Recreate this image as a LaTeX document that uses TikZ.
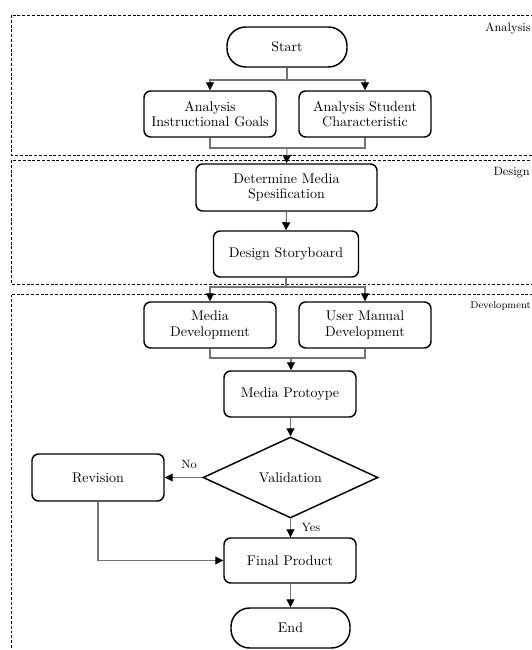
\documentclass[tikz,border=0pt]{standalone}
\usetikzlibrary{shapes.geometric,arrows.meta}
\begin{document}
\begin{tikzpicture}[x=0.75pt,y=-0.75pt,
  box/.style={draw=black,line width=1.1pt,rounded corners=5pt,align=center,inner sep=0pt,font=\fontsize{10.5}{11.5}\selectfont},
  term/.style={draw=black,line width=1.1pt,rounded corners=14pt,align=center,inner sep=0pt,font=\fontsize{10.5}{11.5}\selectfont},
  decision/.style={draw=black,line width=1.1pt,diamond,aspect=2.16,inner sep=0pt,font=\fontsize{10.5}{11.5}\selectfont},
  frame/.style={draw=black,dashed,line width=0.4pt,dash pattern=on 2.2pt off 1.4pt},
  conn/.style={draw=black!55,line width=0.8pt},
  arr/.style={conn,-{Triangle[length=6pt,width=6pt,color=black]}},
  phase/.style={anchor=north east,inner sep=0pt,font=\fontsize{9}{10}\selectfont},
  lbl/.style={inner sep=0pt,font=\fontsize{9}{10}\selectfont}]
\useasboundingbox (0,0) rectangle (532,650);
% phase frames
\draw[frame] (11.5,15) rectangle (545,155.5);
\draw[frame] (11.5,160) rectangle (545,284);
\draw[frame] (11.5,294.5) rectangle (545,665);
\node[phase] (pa) at (531,23) {Analysis};
\node[phase] (pd) at (530,167) {Design};
\node[phase, font=\fontsize{7.5}{9}\selectfont] (pdev) at (531,301) {Development};
% nodes
\node[term, minimum width=120*0.75pt, minimum height=40*0.75pt] (start) at (287,47) {Start};
\node[box, minimum width=132*0.75pt, minimum height=46*0.75pt] (aig) at (210,114) {Analysis\\Instructional Goals};
\node[box, minimum width=132*0.75pt, minimum height=46*0.75pt] (asc) at (365,114) {Analysis Student\\Characteristic};
\node[box, minimum width=181*0.75pt, minimum height=47*0.75pt] (dms) at (286.5,187.5) {Determine Media\\Spesification};
\node[box, minimum width=145*0.75pt, minimum height=46*0.75pt] (dsb) at (286,254) {Design Storyboard};
\node[box, minimum width=132*0.75pt, minimum height=46*0.75pt] (md) at (210,325) {Media\\Development};
\node[box, minimum width=132*0.75pt, minimum height=46*0.75pt] (umd) at (365,325) {User Manual\\Development};
\node[box, minimum width=132*0.75pt, minimum height=46*0.75pt] (mp) at (290,394) {Media Protoype};
\node[decision, minimum width=175*0.75pt, minimum height=81*0.75pt] (val) at (290.5,477.5) {Validation};
\node[box, minimum width=132*0.75pt, minimum height=47*0.75pt] (rev) at (98,477.5) {Revision};
\node[box, minimum width=132*0.75pt, minimum height=45*0.75pt] (fp) at (290,560.5) {Final Product};
\node[term, minimum width=119*0.75pt, minimum height=40*0.75pt] (end) at (290.5,628) {End};
% junction coordinates
\coordinate (j1) at (287,80);
\coordinate (j2) at (287,148);
\coordinate (j3) at (286,287);
\coordinate (j4) at (291,358);
% connectors
\draw[conn] (start.south) -- (j1);
\draw[arr] (j1) -| (aig.north);
\draw[arr] (j1) -| (asc.north);
\draw[conn] (aig.south) |- (j2);
\draw[conn] (asc.south) |- (j2);
\draw[arr] (j2) -- (dms.north);
\draw[arr] (dms.south) -- (dsb.north);
\draw[conn] (dsb.south) -- (j3);
\draw[arr] (j3) -| (md.north);
\draw[arr] (j3) -| (umd.north);
\draw[conn] (md.south) |- (j4);
\draw[conn] (umd.south) |- (j4);
\draw[arr] (j4) -- (j4 |- mp.north);
\draw[arr] (mp.south -| val.north) -- (val.north);
\draw[arr] (val.west) -- (rev.east);
\draw[arr] (val.south) -- (val.south |- fp.north);
\draw[arr] (rev.south) |- (fp.west);
\draw[arr] (fp.south -| end.north) -- (end.north);
% labels
\node[lbl] (no) at (189,464) {No};
\node[lbl] (yes) at (311,527) {Yes};
\end{tikzpicture}
\end{document}
